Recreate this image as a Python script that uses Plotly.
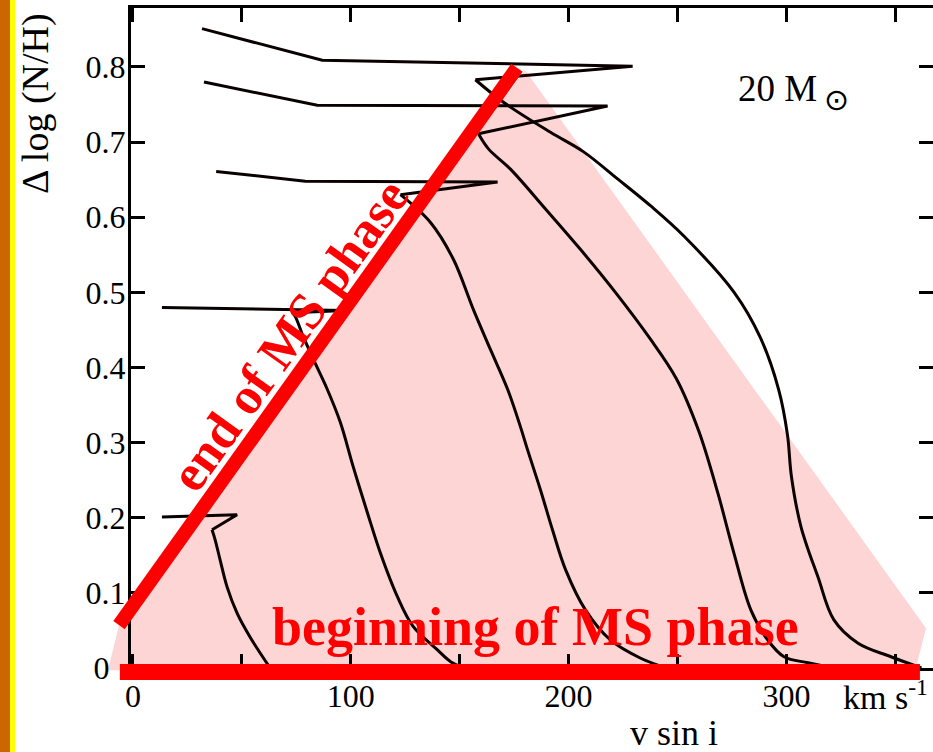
import plotly.graph_objects as go

# ---------------- data ----------------
# axis ranges (v sin i in km/s, Delta log N/H in dex)
XR = [-0.9, 367.3]
YR = [0.0, 0.8785]

x_tick_vals = [0, 50, 100, 150, 200, 250, 300, 350]
x_tick_text = ["0", "", "100", "", "200", "", "300", ""]
y_tick_vals = [0, 0.1, 0.2, 0.3, 0.4, 0.5, 0.6, 0.7, 0.8]
y_tick_text = ["0\u00a0\u00a0", "0.1", "0.2", "0.3", "0.4", "0.5", "0.6", "0.7", "0.8"]

# main-sequence parts of the tracks (from ZAMS upward)
c1_ms_v = [63, 53.8, 47.8, 43.2, 40.0, 37.7, 36.3]
c1_ms_y = [0.0, 0.041, 0.073, 0.108, 0.144, 0.171, 0.184]
c2_ms_v = [152, 146, 139.8, 128.7, 121.4, 113.6, 107.6, 101.1, 95.2, 89.2, 82.8, 78.2, 74.5, 73.1]
c2_ms_y = [0.0, 0.008, 0.024, 0.055, 0.095, 0.153, 0.207, 0.268, 0.327, 0.371, 0.411, 0.441, 0.468, 0.473]
c3_ms_v = [245, 233.1, 219.3, 207.8, 198.6, 192.6, 187.1, 181.1, 177.9, 172.0, 164.1, 156.3, 147.1, 136.6, 122.8]
c3_ms_y = [0.0, 0.013, 0.037, 0.077, 0.131, 0.184, 0.237, 0.291, 0.321, 0.371, 0.424, 0.477, 0.544, 0.593, 0.630]
c4_ms_v = [322, 309.9, 298.9, 291.5, 283.7, 275.9, 268.5, 259.8, 249.5, 237.5, 221.5, 205.5, 189.4, 173.3, 163.2, 158.6]
c4_ms_y = [0.0, 0.007, 0.015, 0.037, 0.077, 0.153, 0.233, 0.315, 0.385, 0.438, 0.500, 0.557, 0.611, 0.664, 0.691, 0.711]
c5_ms_v = [362, 348.0, 332.9, 321.8, 314.5, 306.7, 302.3, 300.5, 296.5, 288.0, 276.0,
           252.9, 237.7, 222.5, 206.9, 191.7, 170.1, 157.2]
c5_ms_y = [0.0, 0.015, 0.033, 0.064, 0.121, 0.188, 0.255, 0.310, 0.370, 0.440, 0.500,
           0.575, 0.615, 0.651, 0.687, 0.713, 0.753, 0.783]

# hook + post-MS parts of the tracks
c1_post_v = [36.3, 47.8, 13.3]
c1_post_y = [0.184, 0.204, 0.201]
c2_post_v = [73.1, 97.5, 13.3]
c2_post_y = [0.473, 0.476, 0.480]
c3_post_v = [122.8, 167.4, 79.1, 38.2]
c3_post_y = [0.630, 0.647, 0.648, 0.661]
c4_post_v = [158.6, 217.9, 84.6, 32.6]
c4_post_y = [0.711, 0.748, 0.749, 0.780]
c5_post_v = [157.2, 229.4, 86.9, 31.7]
c5_post_y = [0.783, 0.801, 0.809, 0.851]

# hand-drawn highlights (data coordinates)
end_ms_bar_v = [-6.4, 176.3]
end_ms_bar_y = [0.057, 0.799]
begin_ms_bar_v = [-6.0, 361.3]
begin_ms_bar_y = [-0.0053, -0.0053]
zone_v = [-11.5, -6.4, 180.0, 364.1, 359.0]
zone_y = [-0.003, 0.057, 0.796, 0.053, -0.005]

ms_tracks = [(c1_ms_v, c1_ms_y), (c2_ms_v, c2_ms_y), (c3_ms_v, c3_ms_y), (c4_ms_v, c4_ms_y), (c5_ms_v, c5_ms_y)]
post_tracks = [(c1_post_v, c1_post_y), (c2_post_v, c2_post_y), (c3_post_v, c3_post_y),
               (c4_post_v, c4_post_y), (c5_post_v, c5_post_y)]

# ---------------- figure ----------------
W, H = 933, 752
ML, MR, MT, MB = 131, 0, 8, 84
SERIF = "Liberation Serif, Times New Roman, serif"
RED = "#FF0000"
INK = "#0a0000"


def px(v):
    return (v - XR[0]) / (XR[1] - XR[0])


def py(y):
    return (y - YR[0]) / (YR[1] - YR[0])


def path(vs, ys, close=False):
    s = " ".join(("M" if i == 0 else "L") + f"{px(a):.5f},{py(b):.5f}" for i, (a, b) in enumerate(zip(vs, ys)))
    return s + (" Z" if close else "")


fig = go.Figure()
for v, y in ms_tracks:
    fig.add_trace(go.Scatter(x=v, y=y, mode="lines", showlegend=False, hoverinfo="skip",
                             line=dict(color=INK, width=3, shape="spline", smoothing=1.0)))
for v, y in post_tracks:
    fig.add_trace(go.Scatter(x=v, y=y, mode="lines", showlegend=False, hoverinfo="skip",
                             line=dict(color=INK, width=3)))
# carrier for mirrored tick axes
fig.add_trace(go.Scatter(x=[None], y=[None], xaxis="x2", yaxis="y2", showlegend=False, hoverinfo="skip"))

axis_common = dict(showgrid=False, zeroline=False, ticks="inside", ticklen=14, tickwidth=2.5,
                   tickcolor="black", linecolor="black", linewidth=3)

fig.update_layout(
    width=W, height=H,
    margin=dict(l=ML, r=MR, t=MT, b=MB),
    paper_bgcolor="white", plot_bgcolor="rgba(0,0,0,0)",
    font=dict(family=SERIF, color="black"),
    xaxis=dict(range=XR, tickvals=x_tick_vals, ticktext=x_tick_text, showline=True,
               tickfont=dict(family=SERIF, size=32), ticklabelstandoff=-2, **axis_common),
    yaxis=dict(range=YR, tickvals=y_tick_vals, ticktext=y_tick_text, showline=True,
               tickfont=dict(family=SERIF, size=32), ticklabelstandoff=-4, **axis_common),
    xaxis2=dict(range=XR, overlaying="x", side="top", tickvals=x_tick_vals, showticklabels=False,
                showline=True, **axis_common),
    yaxis2=dict(range=YR, overlaying="y", side="right", tickvals=y_tick_vals, showticklabels=False,
                showline=False, **{k: val for k, val in axis_common.items() if k not in ("linecolor", "linewidth")}),
)

shapes = [
    # page border strips at the left edge
    dict(type="rect", xref="paper", yref="paper", x0=-ML / (W - ML), x1=(10 - ML) / (W - ML),
         y0=-0.2, y1=1.1, fillcolor="#CC6600", line=dict(width=0), layer="above"),
    dict(type="rect", xref="paper", yref="paper", x0=(10 - ML) / (W - ML), x1=(15 - ML) / (W - ML),
         y0=-0.2, y1=1.1, fillcolor="#FFFF00", line=dict(width=0), layer="above"),
    # pink main-sequence zone
    dict(type="path", xref="paper", yref="paper", path=path(zone_v, zone_y, close=True),
         fillcolor="#FDD5D5", line=dict(width=0), layer="below"),
    # red bars
    dict(type="path", xref="paper", yref="paper", path=path(end_ms_bar_v, end_ms_bar_y),
         line=dict(color=RED, width=14), layer="above"),
    dict(type="path", xref="paper", yref="paper", path=path(begin_ms_bar_v, begin_ms_bar_y),
         line=dict(color=RED, width=16), layer="above"),
]
fig.update_layout(shapes=shapes)

ann = [
    dict(x=71.5, y=0.443, xref="x", yref="y", text="<b>end of MS phase</b>", textangle=-54.4,
         font=dict(family=SERIF, size=52, color=RED), showarrow=False, xanchor="center", yanchor="middle"),
    dict(x=184.6, y=0.055, xref="x", yref="y", text="<b>beginning of MS phase</b>",
         font=dict(family=SERIF, size=54, color=RED), showarrow=False, xanchor="center", yanchor="middle"),
    dict(x=295.7, y=0.772, xref="x", yref="y", text="20 M",
         font=dict(family=SERIF, size=37, color="black"), showarrow=False, xanchor="center", yanchor="middle"),
    dict(x=322.8, y=0.757, xref="x", yref="y", text="\u2299",
         font=dict(family="DejaVu Sans", size=30, color="black"), showarrow=False, xanchor="center", yanchor="middle"),
    dict(x=(35 - ML) / (W - ML), y=(668 - 104) / (H - MT - MB), xref="paper", yref="paper",
         text="\u0394 log (N/H)", textangle=-90,
         font=dict(family=SERIF, size=38, color="black"), showarrow=False, xanchor="center", yanchor="middle"),
    dict(x=(674 - ML) / (W - ML), y=(668 - 733) / (H - MT - MB), xref="paper", yref="paper",
         text="v sin i", font=dict(family=SERIF, size=36, color="black"), showarrow=False,
         xanchor="center", yanchor="middle"),
    dict(x=(885 - ML) / (W - ML), y=(668 - 695) / (H - MT - MB), xref="paper", yref="paper",
         text="km s<sup>-1</sup>", font=dict(family=SERIF, size=34, color="black"), showarrow=False,
         xanchor="center", yanchor="middle"),
]
fig.update_layout(annotations=ann)

fig.write_html("out.html")
